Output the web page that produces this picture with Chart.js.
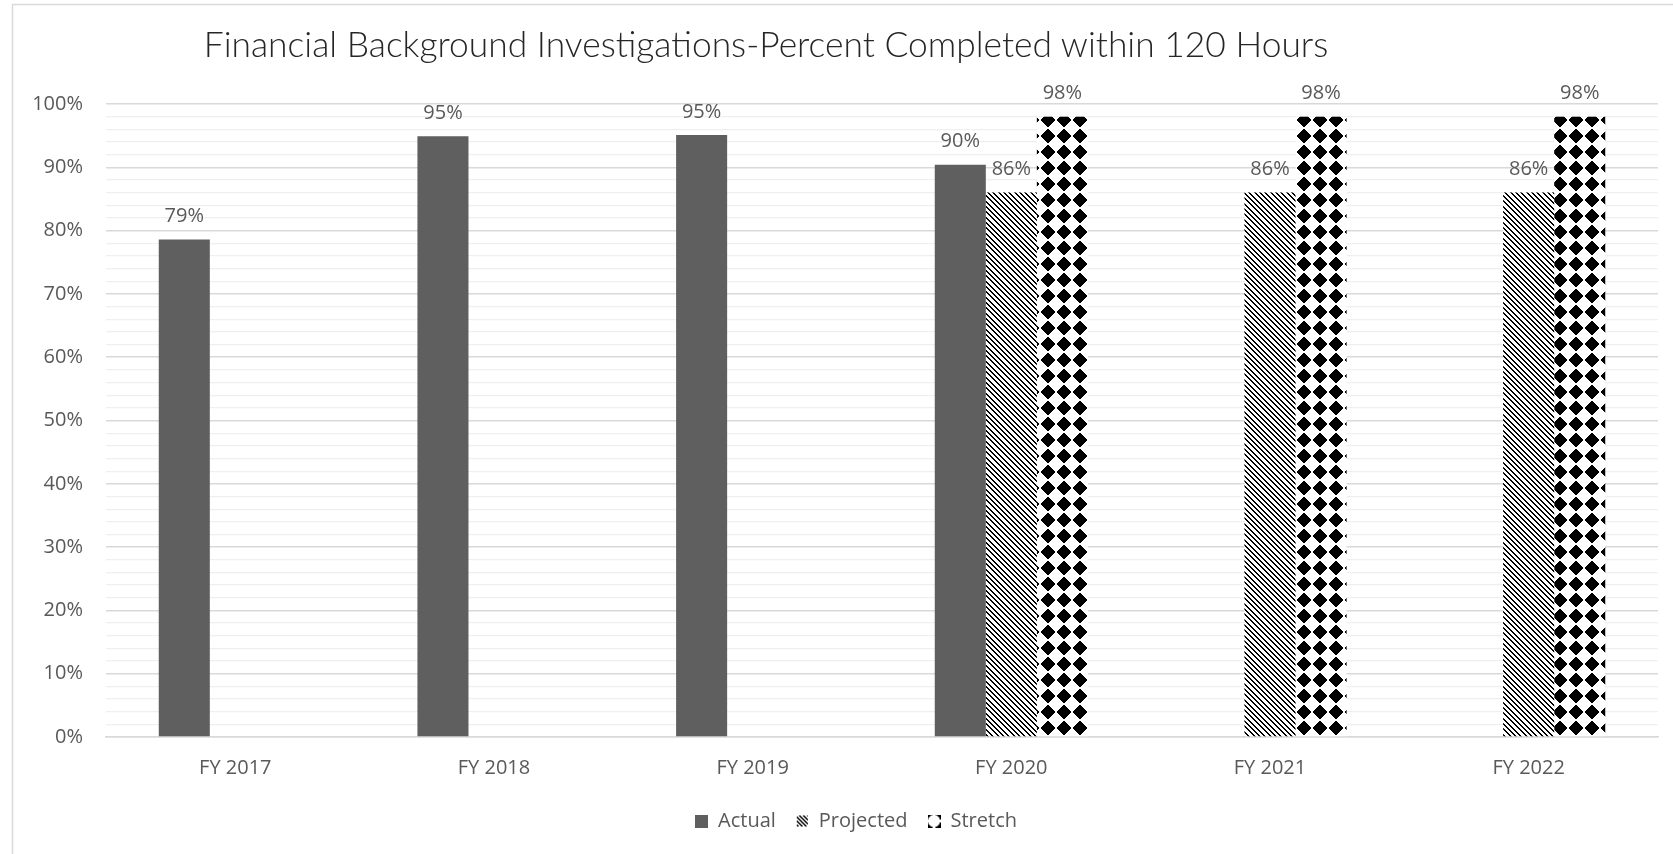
<!DOCTYPE html>
<html>
<head>
<meta charset="utf-8">
<script src="https://cdn.jsdelivr.net/npm/chart.js@4"></script>
<style>
  html, body { margin: 0; padding: 0; background: #fff; }
  #wrap { position: relative; width: 1673px; height: 854px; overflow: hidden; }
  #title {
    position: absolute; left: 0; width: 1532px; top: 22px;
    text-align: center; font-family: Lato, sans-serif; font-weight: 300; font-size: 35.4px; color: #262626;
  }
</style>
</head>
<body>
<div id="wrap">
  <canvas id="myChart" width="1673" height="854"></canvas>
  <div id="title">Financial Background Investigations-Percent Completed within 120 Hours</div>
</div>
<script>
'use strict';

const categories = ['FY 2017', 'FY 2018', 'FY 2019', 'FY 2020', 'FY 2021', 'FY 2022'];
const actual = [78.6, 94.9, 95.1, 90.4, null, null];
const projected = [null, null, null, 86, 86, 86];
const stretch = [null, null, null, 98, 98, 98];

const textColor = '#595959';
const fontFamily = '"Open Sans", sans-serif';

function tile(size, paint) {
  const c = document.createElement('canvas');
  c.width = size; c.height = size;
  const ctx = c.getContext('2d');
  ctx.fillStyle = '#fff';
  ctx.fillRect(0, 0, size, size);
  ctx.fillStyle = '#000';
  for (let y = 0; y < size; y++) {
    for (let x = 0; x < size; x++) {
      if (paint(x, y)) ctx.fillRect(x, y, 1, 1);
    }
  }
  return c;
}

// diagonal lines, like the Excel "wide downward diagonal" fill
const diagTile = tile(16, (x, y) => (((x - y) % 16 + 16) % 16) % (16 / 3) < 2);
// black diamonds on white
const diamondTile = tile(16, (x, y) => Math.abs(x - 7.5) + Math.abs(y - 7.5) <= 7.5);

const patCtx = document.createElement('canvas').getContext('2d');
const diagPattern = patCtx.createPattern(diagTile, 'repeat');
const diamondPattern = patCtx.createPattern(diamondTile, 'repeat');

// little legend swatches
const swatchActual = tile(13, () => false);
swatchActual.getContext('2d').fillStyle = '#5f5f5f';
swatchActual.getContext('2d').fillRect(0, 0, 13, 13);
const swatchProjected = tile(13, (x, y) => ((x - y + 26) % 4) < 1.5 && x > 0 && y > 0 && x < 12 && y < 12);
const swatchStretch = tile(13, (x, y) => {
  const cx = Math.min(x, 12 - x), cy = Math.min(y, 12 - y);
  return (cx < 3 && cy < 3 && cx + cy < 4) || (cx < 1 && cy < 5) || (cy < 1 && cx < 5) ? (cx + cy < 5) : false;
});
const swatches = [swatchActual, swatchProjected, swatchStretch];

const frame = {
  id: 'frame',
  beforeDraw(chart) {
    const ctx = chart.ctx;
    ctx.save();
    ctx.strokeStyle = '#d9d9d9';
    ctx.lineWidth = 1.5;
    ctx.strokeRect(12.5, 4.5, 1700, 900);
    ctx.restore();
  }
};

// the legend sits a little right of centre in the original
const legendShift = {
  id: 'legendShift',
  afterLayout(chart) {
    chart.legend.left += 27;
    chart.legend.right += 27;
  }
};

const barLabels = {
  id: 'barLabels',
  afterDatasetsDraw(chart) {
    const ctx = chart.ctx;
    ctx.save();
    ctx.font = '20px ' + fontFamily;
    ctx.fillStyle = textColor;
    ctx.textAlign = 'center';
    ctx.textBaseline = 'middle';
    chart.data.datasets.forEach((ds, i) => {
      chart.getDatasetMeta(i).data.forEach((bar, j) => {
        const v = ds.data[j];
        if (v == null) return;
        ctx.fillText(Math.round(v) + '%', bar.x, bar.y - 23);
      });
    });
    ctx.restore();
  }
};

new Chart(document.querySelector('#myChart'), {
  type: 'bar',
  data: {
    labels: categories,
    datasets: [
      { label: 'Actual', data: actual, backgroundColor: '#5f5f5f' },
      { label: 'Projected', data: projected, backgroundColor: diagPattern },
      { label: 'Stretch', data: stretch, backgroundColor: diamondPattern },
    ],
  },
  options: {
    responsive: false,
    animation: false,
    layout: { padding: { top: 104, right: 15, left: 0, bottom: 13 } },
    datasets: {
      bar: { categoryPercentage: 0.592, barPercentage: 1 }
    },
    plugins: {
      title: { display: false },
      tooltip: { enabled: false },
      legend: {
        position: 'bottom',
        labels: {
          usePointStyle: true,
          boxWidth: 13,
          boxHeight: 13,
          padding: 20,
          color: textColor,
          font: { family: fontFamily, size: 20 },
          generateLabels: (chart) => {
            const items = Chart.defaults.plugins.legend.labels.generateLabels(chart);
            items.forEach((it, i) => { it.pointStyle = swatches[i]; });
            return items;
          }
        }
      }
    },
    scales: {
      x: {
        grid: { display: false },
        border: { color: '#d9d9d9', width: 1.5 },
        ticks: { color: textColor, padding: 11, font: { family: fontFamily, size: 20 } },
        afterFit: (s) => { s.height = 54; }
      },
      y: {
        min: 0,
        max: 100,
        afterFit: (s) => { s.width = 106; },
        border: { display: false },
        grid: {
          drawTicks: false,
          color: (c) => (c.tick && c.tick.value % 10 === 0) ? '#d9d9d9' : '#efefef',
          lineWidth: (c) => (c.tick && c.tick.value % 10 === 0) ? 1.5 : 1.2
        },
        ticks: {
          stepSize: 2,
          autoSkip: false,
          padding: 23,
          color: textColor,
          font: { family: fontFamily, size: 20 },
          callback: (v) => v % 10 === 0 ? v + '%' : ''
        }
      }
    }
  },
  plugins: [frame, legendShift, barLabels]
});
</script>
</body>
</html>
